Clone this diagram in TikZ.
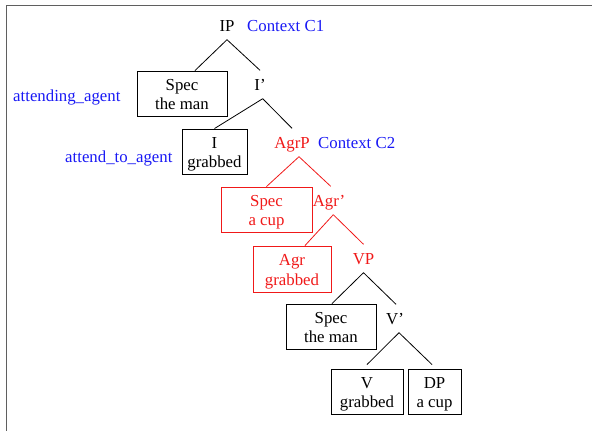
\documentclass[tikz,border=0pt]{standalone}
\usepackage{fontspec}
\setmainfont{Liberation Serif}
\definecolor{phrasered}{RGB}{240,25,25}
\definecolor{ctxblue}{RGB}{25,25,245}
\definecolor{framegray}{RGB}{95,95,95}
% two centred lines inside a constituent box
\newcommand\twoline[2]{\begin{tabular}{@{}c@{}}\rule{0pt}{18.75pt}#1\\#2\end{tabular}}
\begin{document}
\begin{tikzpicture}[x=1pt,y=-1pt,
  every node/.style={font=\fontsize{16.8}{19.5}\selectfont},
  phrase/.style={anchor=base, inner xsep=0pt, inner ysep=8.5pt, text height=11pt, text depth=0pt},
  cbox/.style={draw, line width=0.9pt, inner sep=0pt, minimum height=45pt},
  redbox/.style={cbox, draw=phrasered, text=phrasered},
  ctx/.style={anchor=base west, inner sep=0pt, text=ctxblue},
  branch/.style={line width=0.8pt},
]
\useasboundingbox (0,0) rectangle (592,431);
% frame
\draw[line width=1.8pt, framegray] (592,5.5) -- (6.5,5.5) -- (6.5,431);

% IP level
\node[phrase] (ip) at (227,31) {IP};
\node[ctx] (c1) at (247,31) {Context C1};
\node[cbox, minimum width=90pt] (spec1) at (182,93.5) {\twoline{Spec}{the man}};
\node[phrase] (ibar) at (260,90) {I'};
\node[ctx] (agent1) at (13,101) {attending\_agent};
\node[cbox, minimum width=65pt] (ihead) at (214.5,151.5) {\twoline{I}{grabbed}};
\node[ctx] (agent2) at (65,162) {attend\_to\_agent};

% AgrP level
\node[phrase, text=phrasered] (agrp) at (292,148) {AgrP};
\node[ctx] (c2) at (318,148) {Context C2};
\node[redbox, minimum width=91pt] (speccup) at (266.5,209.5) {\twoline{Spec}{a cup}};
\node[phrase, text=phrasered] (agrbar) at (329,206) {Agr'};
\node[redbox, minimum width=78pt, minimum height=46pt] (agrhead) at (292,269) {\twoline{Agr}{grabbed}};
\node[phrase, text=phrasered] (vp) at (363.5,264) {VP};

% VP level
\node[cbox, minimum width=90pt] (spec2) at (331,326.5) {\twoline{Spec}{the man}};
\node[phrase] (vbar) at (395,324) {V'};
\node[cbox, minimum width=72pt] (vhead) at (367,391.5) {\twoline{V}{grabbed}};
\node[cbox, minimum width=53pt] (dp) at (434.5,391.5) {\twoline{DP}{a cup}};

% branches
\draw[branch] (ip.south) -- ([xshift=13pt]spec1.north);
\draw[branch] (ip.south) -- (ibar.north);
\draw[branch] ([xshift=2.7pt]ibar.south) -- (ihead.north);
\draw[branch] ([xshift=2.7pt]ibar.south) -- (agrp.north);
\draw[branch, phrasered] ([xshift=7pt]agrp.south) -- (speccup.north);
\draw[branch, phrasered] ([xshift=7pt]agrp.south) -- ([xshift=1.7pt]agrbar.north);
\draw[branch, phrasered] ([xshift=4.3pt]agrbar.south) -- ([xshift=13pt]agrhead.north);
\draw[branch, phrasered] ([xshift=4.3pt]agrbar.south) -- (vp.north);
\draw[branch] (vp.south) -- ([xshift=1pt]spec2.north);
\draw[branch] (vp.south) -- ([xshift=1pt]vbar.north);
\draw[branch] ([xshift=4pt]vbar.south) -- ([yshift=4pt]vhead.north);
\draw[branch] ([xshift=4pt]vbar.south) -- ([xshift=-2.5pt,yshift=4pt]dp.north);
\end{tikzpicture}
\end{document}
